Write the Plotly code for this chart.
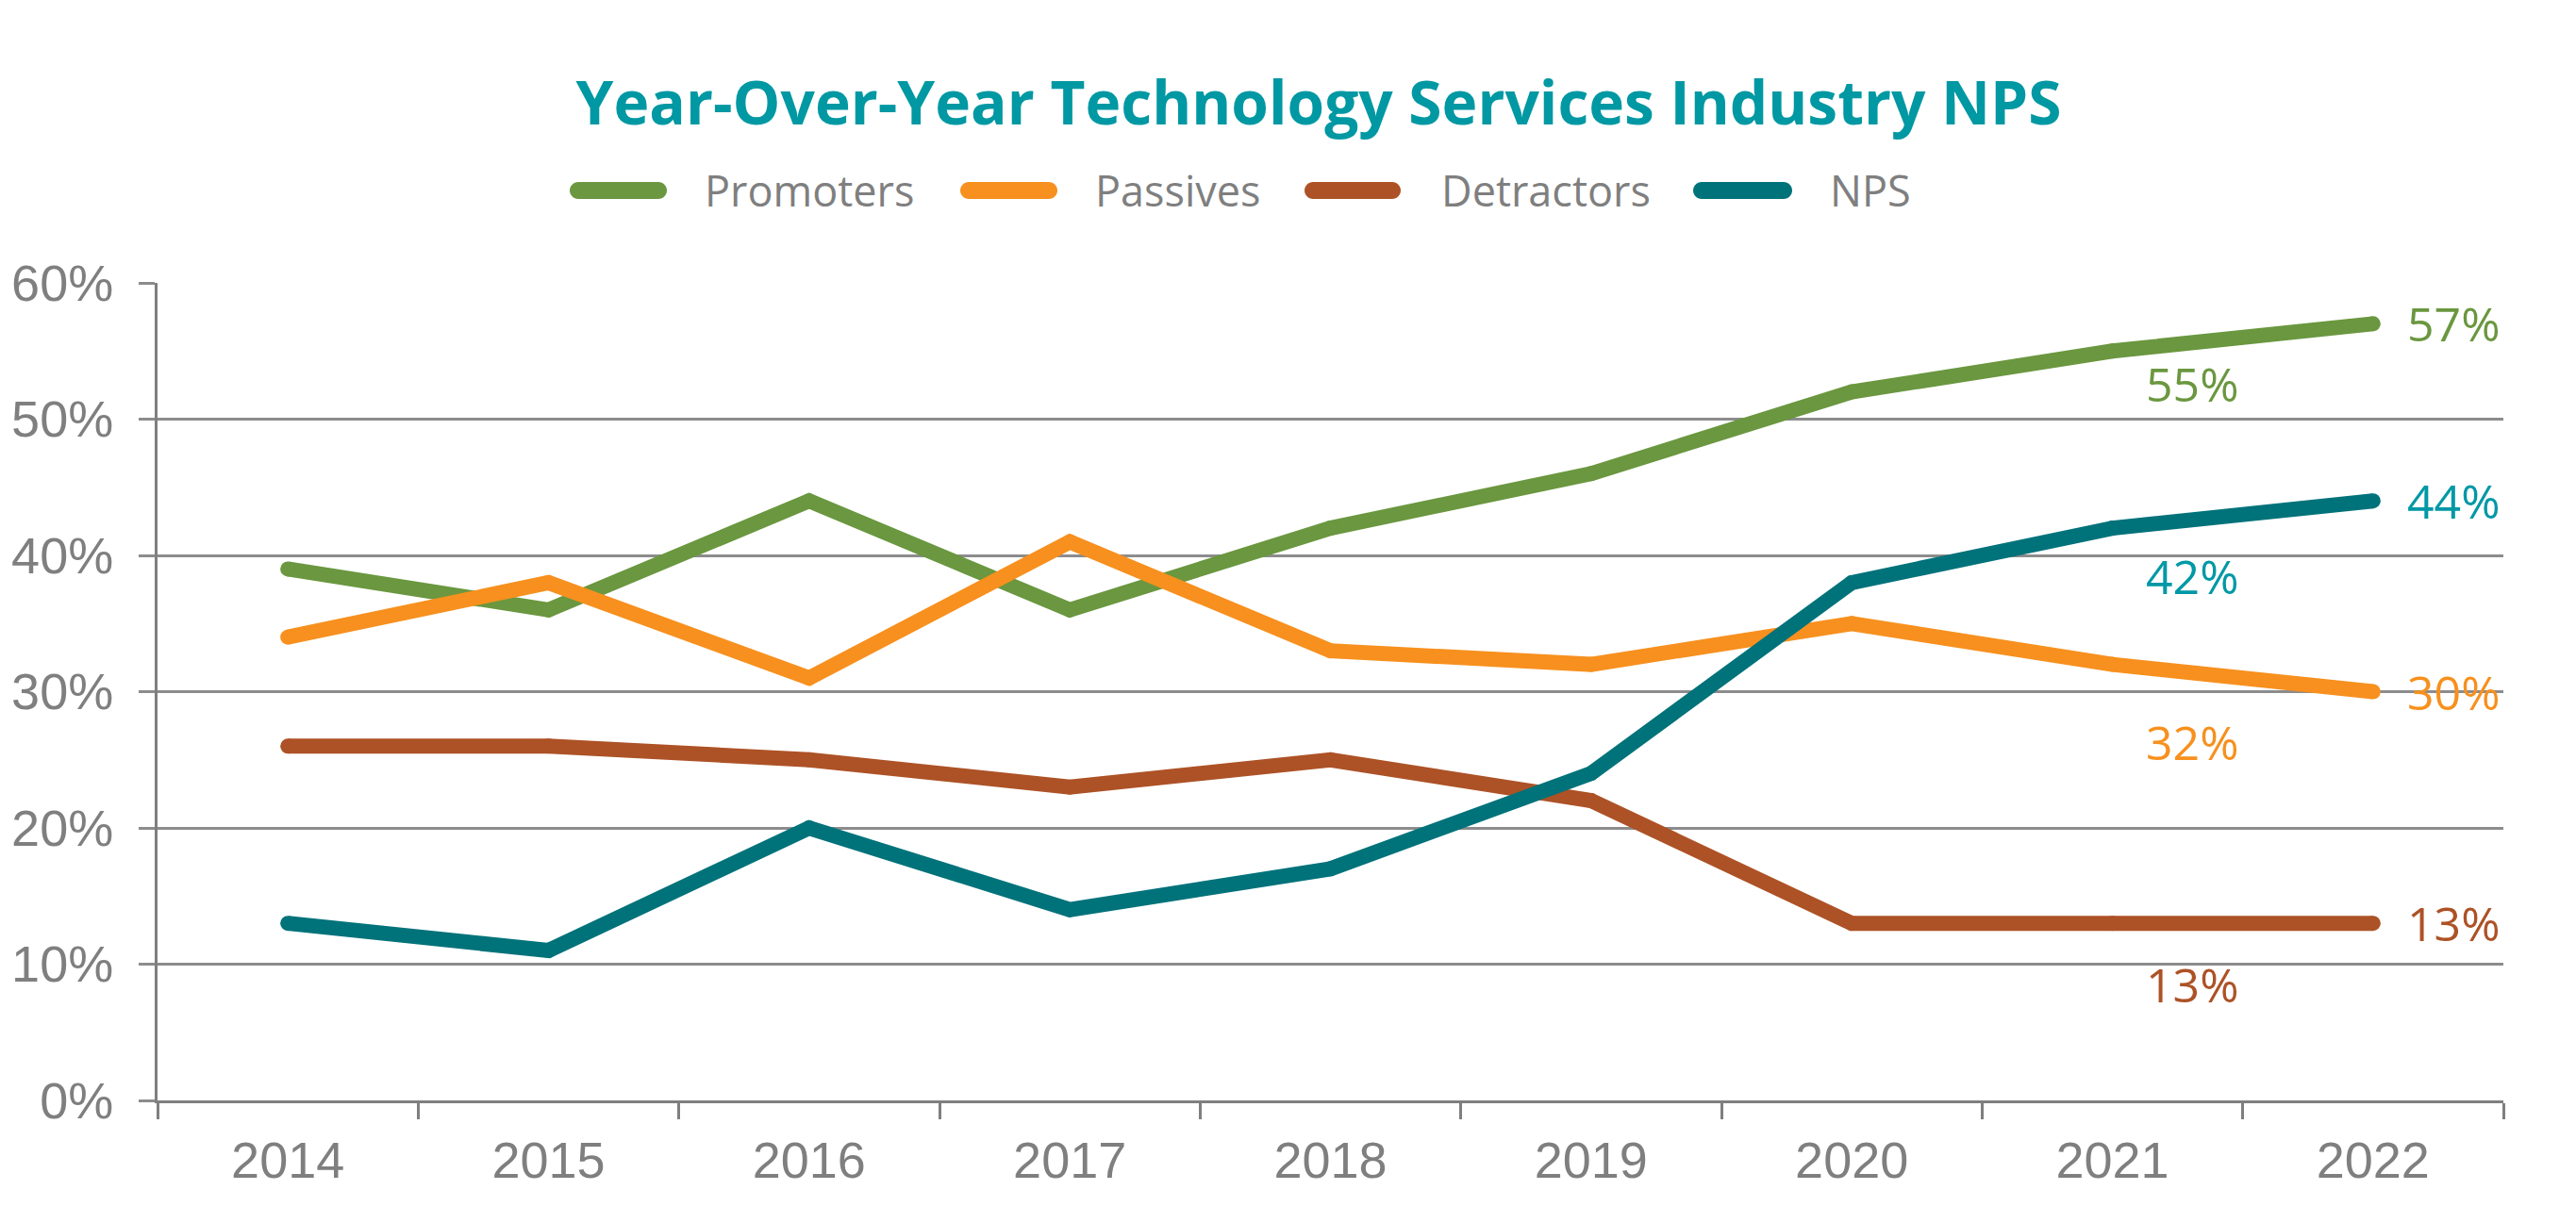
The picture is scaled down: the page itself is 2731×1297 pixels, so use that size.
import plotly.graph_objects as go

years = ["2014", "2015", "2016", "2017", "2018", "2019", "2020", "2021", "2022"]
promoters = [39, 36, 44, 36, 42, 46, 52, 55, 57]
passives = [34, 38, 31, 41, 33, 32, 35, 32, 30]
detractors = [26, 26, 25, 23, 25, 22, 13, 13, 13]
nps = [13, 11, 20, 14, 17, 24, 38, 42, 44]
series_names = ["Promoters", "Passives", "Detractors", "NPS"]
y_ticks = [0, 10, 20, 30, 40, 50, 60]

PCT = "&#37;"
series_values = [promoters, passives, detractors, nps]
line_colors = ["#6A973F", "#F7901E", "#AD5226", "#00727A"]
label_colors = ["#6A973F", "#F7901E", "#AD5226", "#0098A6"]
# vertical pixel offsets (down) of the 2021 labels
label21_down = [35, 82, 65, 51]
LABEL_FONT = "Open Sans"

OFF = 8  # page body margin
W, H = 2731 - OFF, 1297 - OFF
L, R, T, B = 167 - OFF, 2654 - OFF, 300 - OFF, 1167 - OFF
PW, PH = R - L, B - T

fig = go.Figure()
for name, vals, col in zip(series_names, series_values, line_colors):
    fig.add_trace(go.Scatter(
        x=years, y=vals, name=name, mode="lines+markers",
        line=dict(color=col, width=16),
        marker=dict(color=col, size=16, line=dict(width=0)),
        showlegend=False, hoverinfo="skip", cliponaxis=False,
    ))

i_last = len(years) - 1
i_prev = len(years) - 2
annotations = []
for vals, col, dn in zip(series_values, label_colors, label21_down):
    annotations.append(dict(x=i_last, y=vals[i_last], xref="x", yref="y",
                            text=f"{vals[i_last]}{PCT}", showarrow=False, xshift=86,
                            font=dict(family=LABEL_FONT, size=50, color=col)))
    annotations.append(dict(x=i_prev, y=vals[i_prev], xref="x", yref="y",
                            text=f"{vals[i_prev]}{PCT}", showarrow=False, xshift=85, yshift=-dn,
                            font=dict(family=LABEL_FONT, size=50, color=col)))

def px_x(p):
    return (p - OFF - L) / PW

def px_y(p):
    return (B - (p - OFF)) / PH

def pill(x0, x1, yc, r):
    k = 0.5523 * r
    d = f"M{px_x(x0 + r)},{px_y(yc - r)} L{px_x(x1 - r)},{px_y(yc - r)} "
    d += (f"C{px_x(x1 - r + k)},{px_y(yc - r)} {px_x(x1)},{px_y(yc - k)} {px_x(x1)},{px_y(yc)} "
          f"C{px_x(x1)},{px_y(yc + k)} {px_x(x1 - r + k)},{px_y(yc + r)} {px_x(x1 - r)},{px_y(yc + r)} ")
    d += f"L{px_x(x0 + r)},{px_y(yc + r)} "
    d += (f"C{px_x(x0 + r - k)},{px_y(yc + r)} {px_x(x0)},{px_y(yc + k)} {px_x(x0)},{px_y(yc)} "
          f"C{px_x(x0)},{px_y(yc - k)} {px_x(x0 + r - k)},{px_y(yc - r)} {px_x(x0 + r)},{px_y(yc - r)} Z")
    return d

shapes = []
legend_sym = [(604, 707), (1018, 1121), (1383, 1485), (1795, 1900)]
legend_txt = [745, 1159, 1526, 1938]
leg_y = 202
for (x0, x1), tx, name, col in zip(legend_sym, legend_txt, series_names, line_colors):
    shapes.append(dict(type="path", xref="paper", yref="paper", path=pill(x0, x1, leg_y, 9),
                       fillcolor=col, line=dict(width=0), layer="above"))
    annotations.append(dict(x=px_x(tx), y=px_y(leg_y), xref="paper", yref="paper",
                            xanchor="left", yanchor="middle", text=name, showarrow=False,
                            font=dict(family="Open Sans", size=45, color="#7F7F7F")))

fig.update_layout(
    width=W, height=H,
    margin=dict(l=L, r=W - R, t=T, b=H - B, pad=0, autoexpand=False),
    paper_bgcolor="white", plot_bgcolor="white",
    title=dict(text="<b>Year-Over-Year Technology Services Industry NPS</b>",
               x=(1398 - OFF) / W, xref="container", xanchor="center",
               y=1 - (110 - OFF) / H, yref="container", yanchor="middle",
               font=dict(family="Open Sans", size=64, color="#0098A3")),
    showlegend=False,
    xaxis=dict(type="category", range=[-0.5, 8.5], showgrid=False, automargin=False,
               showline=True, linecolor="#7F7F7F", linewidth=3,
               ticks="outside", tickson="boundaries", ticklen=17, tickwidth=2.5,
               tickcolor="#7F7F7F", ticklabelstandoff=14,
               tickfont=dict(family="Liberation Sans", size=54, color="#7F7F7F")),
    yaxis=dict(range=[0, 60], tickvals=y_ticks, ticktext=[f"{v}{PCT}" for v in y_ticks],
               automargin=False,
               showgrid=True, gridcolor="#8C8C8C", gridwidth=3,
               showline=True, linecolor="#7F7F7F", linewidth=3,
               ticks="outside", ticklen=17, tickwidth=3, tickcolor="#8C8C8C",
               ticklabelstandoff=16, zeroline=False,
               tickfont=dict(family="Liberation Sans", size=54, color="#7F7F7F")),
    annotations=annotations,
    shapes=shapes,
)

fig.write_html("out.html")
